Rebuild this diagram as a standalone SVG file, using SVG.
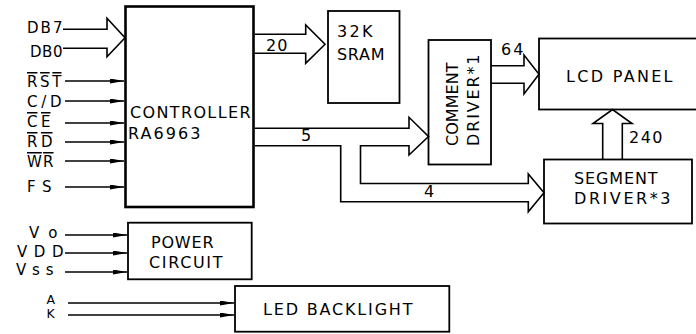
<svg xmlns="http://www.w3.org/2000/svg" width="696" height="334" viewBox="0 0 696 334">
<style>
  text { font-family: "DejaVu Sans", "Liberation Sans", sans-serif; font-size: 16px; fill: #000; }
  .lbl { font-size: 15px; }
  .sm { font-size: 12.5px; }
  .box { fill: #fff; stroke: #000; stroke-width: 1.8; }
  .thick { stroke-width: 2.6; }
  .wire { fill: none; stroke: #000; stroke-width: 1.7; marker-end: url(#ah); }
  .bus { fill: none; stroke: #000; stroke-width: 1.6; stroke-linejoin: miter; }
  .ov { text-decoration: overline; }
</style>
<defs>
  <marker id="ah" markerUnits="userSpaceOnUse" markerWidth="14" markerHeight="6" refX="14" refY="2.5" orient="auto">
    <path d="M0,0 L14,2.5 L0,5 Z" fill="#000"/>
  </marker>
</defs>

<g id="controller">
  <rect class="box thick" x="125.5" y="6.5" width="128" height="200.5"/>
  <text x="130" y="118" textLength="120.5" lengthAdjust="spacing">CONTROLLER</text>
  <text x="128" y="139" textLength="72.5" lengthAdjust="spacing">RA6963</text>
</g>
<g id="sram">
  <rect class="box" x="328" y="11" width="71.5" height="92"/>
  <text x="337" y="37" textLength="35.5" lengthAdjust="spacing">32K</text>
  <text x="337" y="60" textLength="47.5" lengthAdjust="spacing">SRAM</text>
</g>
<g id="comment-driver">
  <rect class="box" x="428.5" y="40" width="62.5" height="124.5"/>
  <text transform="translate(458,146) rotate(-90)" textLength="83.5" lengthAdjust="spacing">COMMENT</text>
  <text transform="translate(479,146) rotate(-90)" textLength="91.5" lengthAdjust="spacing">DRIVER*1</text>
</g>
<g id="lcd-panel">
  <rect class="box" x="539" y="38.5" width="162" height="71"/>
  <text x="566" y="82" textLength="106.5" lengthAdjust="spacing">LCD PANEL</text>
</g>
<g id="segment-driver">
  <rect class="box" x="544" y="159.5" width="148" height="64"/>
  <text x="574" y="184" textLength="83.5" lengthAdjust="spacing">SEGMENT</text>
  <text x="574" y="204" textLength="96.5" lengthAdjust="spacing">DRIVER*3</text>
</g>
<g id="power-circuit">
  <rect class="box" x="128" y="222.7" width="123.7" height="56.6"/>
  <text x="151" y="248" textLength="62.5" lengthAdjust="spacing">POWER</text>
  <text x="149" y="268" textLength="73.5" lengthAdjust="spacing">CIRCUIT</text>
</g>
<g id="led-backlight">
  <rect class="box" x="235" y="286" width="214.3" height="45.7"/>
  <text x="263" y="315" textLength="149.5" lengthAdjust="spacing">LED BACKLIGHT</text>
</g>

<g id="connectors">
  <!-- data bus -->
  <path class="bus" d="M63,29.3 H107 V18.3 L125,37.7 L107,56.7 V48.3 H63"/>
  <text class="lbl" x="27" y="33" textLength="35.5" lengthAdjust="spacing">DB7</text>
  <text class="lbl" x="30" y="57" textLength="32.5" lengthAdjust="spacing">DB0</text>
  <!-- control lines -->
  <line class="wire" x1="65" y1="81" x2="124" y2="81"/>
  <line class="wire" x1="65" y1="101" x2="124" y2="101"/>
  <line class="wire" x1="65" y1="123" x2="124" y2="123"/>
  <line class="wire" x1="65" y1="142" x2="124" y2="142"/>
  <line class="wire" x1="65" y1="161" x2="124" y2="161"/>
  <line class="wire" x1="65" y1="187" x2="124" y2="187"/>
  <text class="lbl ov" x="27" y="87" textLength="34.5" lengthAdjust="spacing">RST</text>
  <text class="lbl" x="27" y="107" textLength="34.5" lengthAdjust="spacing">C/D</text>
  <text class="lbl ov" x="27" y="127" textLength="23.5" lengthAdjust="spacing">CE</text>
  <text class="lbl ov" x="27" y="147" textLength="25.5" lengthAdjust="spacing">RD</text>
  <text class="lbl ov" x="27" y="167" textLength="26.5" lengthAdjust="spacing">WR</text>
  <text class="lbl" x="27" y="192" textLength="24.5" lengthAdjust="spacing">FS</text>
  <!-- address bus to SRAM -->
  <path class="bus" d="M254.8,34.3 H305.7 V25 L325,44.3 L305.7,63.3 V53.3 H254.8"/>
  <text x="266" y="51" textLength="21.5" lengthAdjust="spacing">20</text>
  <!-- 5 / 4 buses -->
  <path class="bus" d="M254.8,128.3 H409 V117.3 L428.5,136.5 L409,155 V145.7 H360.5 V183.5 H528.3 V174 L544,192.7 L528.3,211.7 V201.7 H340.7 V145.7 H254.8"/>
  <text x="301" y="141">5</text>
  <text x="424" y="197">4</text>
  <!-- 64 bus -->
  <path class="bus" d="M491,65.7 H524 V55 L539,74.3 L524,94 V83.3 H491"/>
  <text x="501" y="55" textLength="22.5" lengthAdjust="spacing">64</text>
  <!-- 240 bus -->
  <path class="bus" d="M602.7,159.5 V123.5 H593 L612.5,109.5 L632,123.5 H622.3 V159.5"/>
  <text x="629" y="143" textLength="33.5" lengthAdjust="spacing">240</text>
  <!-- power lines -->
  <line class="wire" x1="65" y1="235" x2="127" y2="235"/>
  <line class="wire" x1="65" y1="253" x2="127" y2="253"/>
  <line class="wire" x1="65" y1="272" x2="127" y2="272"/>
  <text class="lbl" x="29" y="238" textLength="28.5" lengthAdjust="spacing">Vo</text>
  <text class="lbl" x="17" y="257" textLength="46.5" lengthAdjust="spacing">VDD</text>
  <text class="lbl" x="16" y="275" textLength="37.5" lengthAdjust="spacing">Vss</text>
  <!-- backlight lines -->
  <line class="wire" x1="68" y1="303" x2="234" y2="303"/>
  <line class="wire" x1="68" y1="315" x2="234" y2="315"/>
  <text class="lbl sm" x="46.5" y="303.5">A</text>
  <text class="lbl sm" x="46.5" y="318">K</text>
</g>
</svg>
